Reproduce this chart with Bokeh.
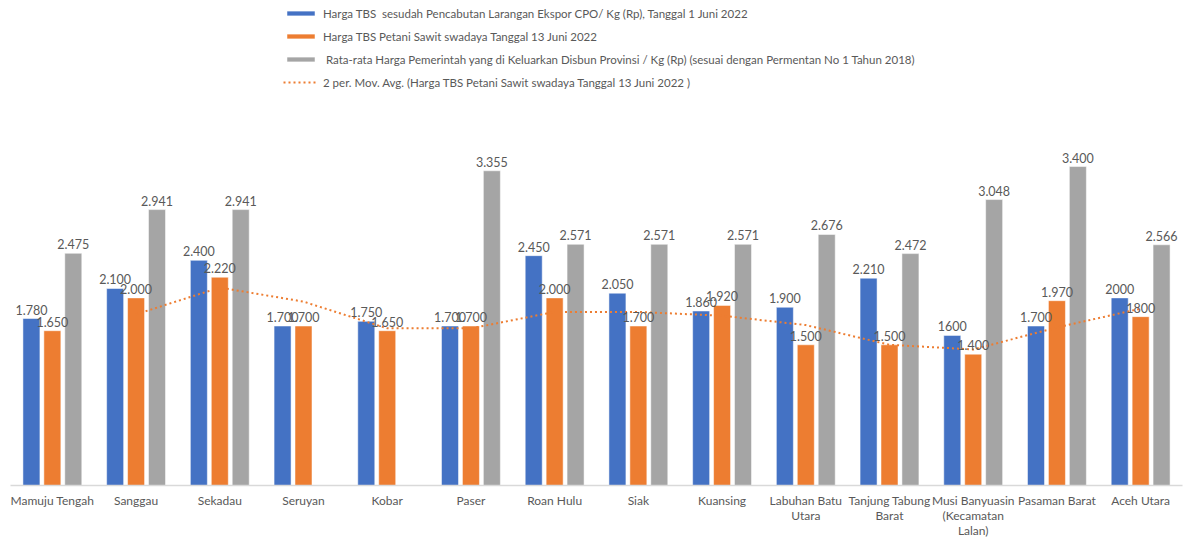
from bokeh.plotting import figure
from bokeh.models import ColumnDataSource, FactorRange, Legend, LegendItem
from bokeh.transform import dodge
from bokeh.core.properties import value
from bokeh.embed import file_html
from bokeh.resources import INLINE

categories = ["Mamuju Tengah", "Sanggau", "Sekadau", "Seruyan", "Kobar", "Paser",
              "Roan Hulu", "Siak", "Kuansing", "Labuhan Batu\nUtara",
              "Tanjung Tabung\nBarat", "Musi Banyuasin\n(Kecamatan\nLalan)",
              "Pasaman Barat", "Aceh Utara"]

harga_1_juni = [1780, 2100, 2400, 1700, 1750, 1700, 2450, 2050, 1860, 1900, 2210, 1600, 1700, 2000]
harga_13_juni = [1650, 2000, 2220, 1700, 1650, 1700, 2000, 1700, 1920, 1500, 1500, 1400, 1970, 1800]
harga_pemerintah = [2475, 2941, 2941, 0, 0, 3355, 2571, 2571, 2571, 2676, 2472, 3048, 3400, 2566]

label_1_juni = ["1.780", "2.100", "2.400", "1.700", "1.750", "1.700", "2.450", "2.050",
                "1.860", "1.900", "2.210", "1600", "1.700", "2000"]
label_13_juni = ["1.650", "2.000", "2.220", "1.700", "1.650", "1.700", "2.000", "1.700",
                 "1.920", "1.500", "1.500", "1.400", "1.970", "1800"]
label_pemerintah = ["2.475", "2.941", "2.941", "", "", "3.355", "2.571", "2.571",
                    "2.571", "2.676", "2.472", "3.048", "3.400", "2.566"]

# 2-period moving average of the 13 Juni series (starts at 2nd category)
mov_avg_cats = categories[1:]
mov_avg = [1825, 2110, 1960, 1675, 1675, 1850, 1850, 1810, 1710, 1500, 1450, 1685, 1885]

legend_labels = [
    "Harga TBS  sesudah Pencabutan Larangan Ekspor CPO/ Kg (Rp), Tanggal 1 Juni 2022",
    "Harga TBS Petani Sawit swadaya Tanggal 13 Juni 2022",
    " Rata-rata Harga Pemerintah yang di Keluarkan Disbun Provinsi / Kg (Rp) (sesuai dengan Permentan No 1 Tahun 2018)",
    "2 per. Mov. Avg. (Harga TBS Petani Sawit swadaya Tanggal 13 Juni 2022 )",
]

BLUE = "#4472C4"
ORANGE = "#ED7D31"
GREY = "#A5A5A5"
TXT = "#595959"
FONT = "Lato"

src = ColumnDataSource(dict(cat=categories, a=harga_1_juni, b=harga_13_juni, c=harga_pemerintah,
                            la=label_1_juni, lb=label_13_juni, lc=label_pemerintah))

p = figure(x_range=FactorRange(*categories, range_padding=0), y_range=(0, 5170),
           frame_width=1172, frame_height=485, output_backend="svg", toolbar_location=None,
           min_border_left=10, min_border_right=10, min_border_top=0, min_border_bottom=0)

w = 0.203
off = 0.25
ra = p.vbar(x=dodge("cat", -off, range=p.x_range), top="a", width=w, source=src,
            fill_color=BLUE, line_color="white", line_width=0.5)
rb = p.vbar(x=dodge("cat", 0, range=p.x_range), top="b", width=w, source=src,
            fill_color=ORANGE, line_color="white", line_width=0.5)
rc = p.vbar(x=dodge("cat", off, range=p.x_range), top="c", width=w, source=src,
            fill_color=GREY, line_color="white", line_width=0.5)

rl = p.line(x=mov_avg_cats, y=mov_avg, line_color=ORANGE, line_width=2, line_dash="2 3")

for col, lab, o in (("a", "la", -off), ("b", "lb", 0), ("c", "lc", off)):
    p.text(x=dodge("cat", o, range=p.x_range), y=col, text=lab, source=src,
           text_align="center", text_baseline="bottom", y_offset=-4,
           text_font=value(FONT), text_font_size="12.5px", text_color=TXT)

legend = Legend(items=[LegendItem(label=legend_labels[0], renderers=[ra]),
                       LegendItem(label=legend_labels[1], renderers=[rb]),
                       LegendItem(label=legend_labels[2], renderers=[rc]),
                       LegendItem(label=legend_labels[3], renderers=[rl])],
                location=(273, 396), orientation="vertical",
                glyph_width=35, glyph_height=6, label_height=14, spacing=9,
                label_standoff=5, padding=0, margin=0,
                border_line_color=None, background_fill_alpha=0,
                label_text_font=FONT, label_text_font_size="11.5px", label_text_color=TXT)
p.add_layout(legend)

p.yaxis.visible = False
p.xgrid.grid_line_color = None
p.ygrid.grid_line_color = None
p.outline_line_color = None
p.xaxis.axis_line_color = "#D9D9D9"
p.xaxis.axis_line_width = 1.5
p.xaxis.major_tick_line_color = None
p.xaxis.minor_tick_line_color = None
p.xaxis.major_tick_out = 0
p.xaxis.major_label_standoff = 7
p.xaxis.major_label_text_font = FONT
p.xaxis.major_label_text_font_size = "12px"
p.xaxis.major_label_text_color = TXT
p.xaxis.major_label_text_line_height = 1.0

open("out.html", "w").write(file_html(p, INLINE))
